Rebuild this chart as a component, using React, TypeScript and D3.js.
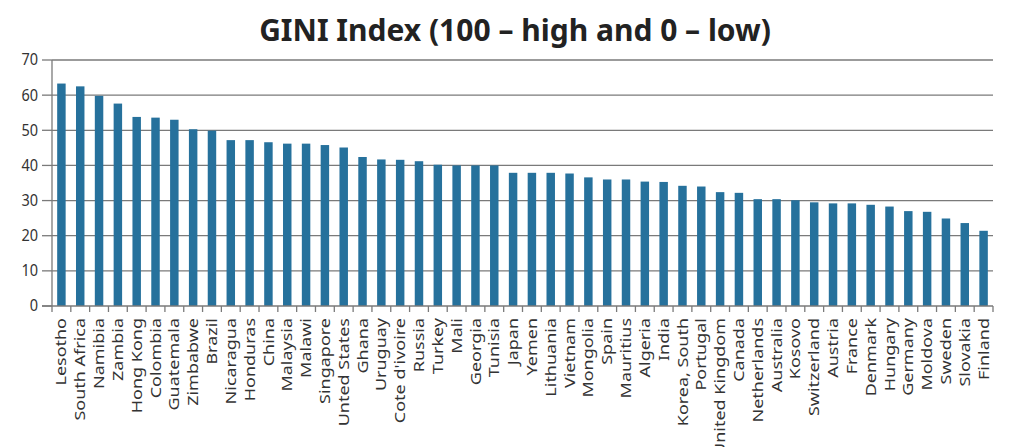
import React from "react";
import * as d3 from "d3";

const countries = [
  "Lesotho", "South Africa", "Namibia", "Zambia", "Hong Kong", "Colombia", "Guatemala", "Zimbabwe",
  "Brazil", "Nicaragua", "Honduras", "China", "Malaysia", "Malawi", "Singapore", "Unted States",
  "Ghana", "Uruguay", "Cote d'ivoire", "Russia", "Turkey", "Mali", "Georgia", "Tunisia", "Japan",
  "Yemen", "Lithuania", "Vietnam", "Mongolia", "Spain", "Mauritius", "Algeria", "India",
  "Korea, South", "Portugal", "United Kingdom", "Canada", "Netherlands", "Australia", "Kosovo",
  "Switzerland", "Austria", "France", "Denmark", "Hungary", "Germany", "Moldova", "Sweden",
  "Slovakia", "Finland",
];

const gini = [
  63.3, 62.5, 59.8, 57.6, 53.8, 53.6, 53.0, 50.3, 49.9, 47.2, 47.2, 46.6, 46.2, 46.2, 45.8, 45.1,
  42.4, 41.7, 41.6, 41.2, 40.2, 40.0, 40.0, 40.0, 37.9, 37.9, 37.9, 37.7, 36.6, 36.0, 36.0, 35.4,
  35.3, 34.2, 34.0, 32.4, 32.2, 30.4, 30.4, 30.1, 29.5, 29.2, 29.2, 28.8, 28.3, 27.0, 26.8, 24.9,
  23.6, 21.4,
];

const yTicks = [0, 10, 20, 30, 40, 50, 60, 70];
const title = "GINI Index (100 \u2013 high and 0 \u2013 low)";

const W = 1035;
const H = 447;
const left = 52;
const right = 993;
const top = 60;
const bottom = 306;
const font = "'Noto Sans', 'Open Sans', sans-serif";

export default function App() {
  const x = d3.scaleBand<string>().domain(countries).range([left, right]).paddingInner(0.55).paddingOuter(0.275);
  const xb = d3.scaleBand<string>().domain(countries).range([left, right]);
  const y = d3.scaleLinear().domain([0, 70]).range([bottom, top]);

  return (
    <svg width={W} height={H} style={{ position: "absolute", left: 0, top: 0, background: "#fff" }}>
      <text x={515} y={41} textAnchor="middle" fontFamily={font} fontWeight="bold" fontSize={30} fill="#222">
        {title}
      </text>
      {yTicks.map((t) => (
        <g key={t}>
          {t > 0 && (
            <line x1={left} x2={right} y1={y(t)} y2={y(t)} stroke="#7a7a7a" strokeWidth={1.3} />
          )}
          <line x1={42} x2={left} y1={y(t)} y2={y(t)} stroke="#7a7a7a" strokeWidth={1.3} />
          <text transform={`translate(38,${y(t)}) scale(1,1.08)`} dy="0.35em" textAnchor="end" fontFamily={font} fontSize={14.5} fill="#333">
            {t}
          </text>
        </g>
      ))}
      {countries.map((c, i) => (
        <rect key={c} x={x(c)} y={y(gini[i])} width={x.bandwidth()} height={y(0) - y(gini[i])} fill="#26719c" />
      ))}
      <line x1={left} x2={left} y1={top} y2={bottom + 6} stroke="#7a7a7a" strokeWidth={1.3} />
      <line x1={42} x2={right} y1={bottom} y2={bottom} stroke="#7a7a7a" strokeWidth={1.3} />
      {countries.map((c) => (
        <line key={"t" + c} x1={(xb(c) as number) + xb.bandwidth()} x2={(xb(c) as number) + xb.bandwidth()} y1={bottom} y2={bottom + 6} stroke="#7a7a7a" strokeWidth={1.3} />
      ))}
      {countries.map((c) => {
        const cx = (x(c) as number) + x.bandwidth() / 2;
        return (
          <text key={"l" + c} transform={`translate(${cx},${bottom + 12}) rotate(-90) scale(1.24,1)`} dy="0.35em" textAnchor="end" fontFamily={font} fontSize={14.5} fill="#333">
            {c}
          </text>
        );
      })}
    </svg>
  );
}
